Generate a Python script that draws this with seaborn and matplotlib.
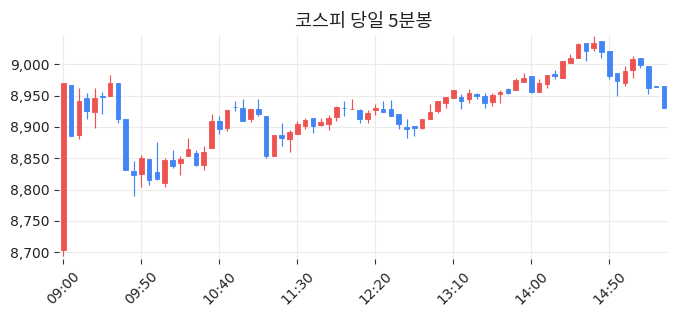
import matplotlib
matplotlib.use("Agg")
import matplotlib.pyplot as plt
import matplotlib.ticker as mticker
import seaborn as sns
import numpy as np
import pandas as pd

# ---- data ----
times = pd.date_range("2024-01-01 09:00", periods=78, freq="5min").strftime("%H:%M").tolist()

opens = [8703, 8967, 8887, 8946, 8924, 8949.5, 8950, 8970, 8912, 8829,
         8825, 8849, 8828, 8811, 8847, 8843, 8854, 8858, 8840, 8867,
         8910, 8899, 8932.5, 8930, 8913, 8929, 8918, 8854, 8887, 8881,
         8888, 8902, 8914, 8903, 8905, 8916, 8930.8, 8928, 8927, 8913,
         8927, 8929, 8928, 8921, 8900, 8901.5, 8899, 8912, 8926, 8939,
         8947, 8948, 8945, 8953, 8949, 8940, 8953, 8960.5, 8959, 8972,
         8981, 8956, 8969, 8985, 8979, 9003, 9011, 9035, 9026.5, 9037,
         9021, 8986, 8971, 8991, 9010, 8997, 8965.3, 8965.5]
highs = [8970, 8967, 8963, 8954, 8963, 8956, 8983, 8970, 8912, 8846,
         8856, 8849, 8876, 8850, 8863, 8854, 8882, 8863, 8869, 8921,
         8917, 8927, 8942, 8945, 8929, 8945, 8918, 8887, 8906, 8895,
         8910, 8914, 8914, 8914, 8919, 8934, 8941, 8945, 8928, 8927,
         8936, 8941, 8943, 8921, 8912, 8901.5, 8913, 8936, 8941, 8948,
         8959, 8953, 8960, 8955, 8954, 8955, 8958.5, 8962, 8979, 8987,
         8981, 8976, 8983, 8991, 9005, 9016, 9034, 9035, 9045, 9037,
         9021, 8986, 8998, 9013, 9010, 8997, 8965.3, 8965.5]
lows = [8694, 8886, 8880, 8912, 8899, 8921, 8950, 8907, 8832, 8789,
        8804, 8807, 8815, 8804, 8835, 8823, 8854, 8838, 8831, 8867,
        8888, 8893, 8925, 8910, 8908, 8918, 8851, 8854, 8869, 8860,
        8888, 8897, 8890, 8901, 8895, 8910, 8917, 8928, 8907, 8906,
        8919, 8924, 8918, 8896, 8883, 8885, 8896, 8912, 8923, 8931,
        8946, 8928, 8939, 8945, 8930, 8934, 8939, 8952.5, 8959, 8972,
        8954, 8956, 8963, 8976, 8979, 9002, 9010, 9005, 9022, 9011,
        8977, 8949, 8966, 8978, 8995, 8952, 8964.5, 8931]
closes = [8970, 8886, 8941, 8926, 8946, 8948.5, 8971, 8913, 8832, 8824,
          8850, 8816, 8817, 8847, 8838, 8849, 8865, 8840, 8860, 8910,
          8896, 8927, 8931.5, 8910, 8929, 8920, 8854, 8887, 8883, 8892,
          8905, 8911, 8902, 8908, 8914, 8932, 8929.8, 8929, 8913, 8922,
          8930, 8924, 8918, 8905, 8896, 8898, 8913, 8924, 8941, 8948,
          8959, 8942, 8954, 8950, 8939, 8951, 8956, 8955, 8975, 8978,
          8956, 8970, 8983, 8982, 9005, 9010, 9032, 9022, 9033.5, 9020,
          8982, 8974, 8989, 9008.5, 8999, 8963, 8964.5, 8931]

title = "코스피 당일 5분봉"
up_color = "#ef5350"
down_color = "#4285f4"

# ---- styling ----
sns.set_theme(style="whitegrid", rc={
    "grid.color": "#ebebeb",
    "grid.linewidth": 0.8,
    "xtick.bottom": True,
    "ytick.left": True,
    "xtick.major.size": 3.5,
    "ytick.major.size": 3.5,
    "xtick.major.width": 0.8,
    "ytick.major.width": 0.8,
    "xtick.color": "#333333",
    "ytick.color": "#333333",
    "xtick.labelcolor": "#222222",
    "ytick.labelcolor": "#222222",
    "xtick.labelsize": 10,
    "ytick.labelsize": 10,
})
plt.rcParams["font.family"] = ["DejaVu Sans", "Noto Sans CJK KR"]

df = pd.DataFrame({"time": times, "open": opens, "high": highs,
                   "low": lows, "close": closes})
df["pos"] = np.arange(len(df))
df["up"] = df["close"] >= df["open"]
df["color"] = np.where(df["up"], up_color, down_color)
df["bottom"] = np.minimum(df["open"], df["close"])
df["height"] = (df["close"] - df["open"]).abs()

fig = plt.figure(figsize=(6.76, 3.16), dpi=100)
ax = fig.add_axes([59.4 / 676, 1 - 259 / 316, (667.8 - 59.4) / 676, (259 - 35) / 316])

ax.vlines(df["pos"], df["low"], df["high"], colors=df["color"], linewidth=0.85, zorder=2)
ax.bar(df["pos"], df["height"], bottom=df["bottom"], width=0.58,
       color=df["color"], edgecolor=df["color"], linewidth=0.6, zorder=3)

ax.set_xlim(-0.5, len(df) - 0.5)
ax.set_ylim(8689, 9047)
tick_pos = df["pos"][::10].tolist()
ax.set_xticks(tick_pos)
ax.set_xticklabels(df["time"][::10].tolist(), rotation=45)
ax.yaxis.set_major_locator(mticker.MultipleLocator(50))
ax.yaxis.set_major_formatter(mticker.FuncFormatter(lambda v, p: f"{v:,.0f}"))
ax.grid(True, axis="both")
ax.set_axisbelow(True)
sns.despine(ax=ax, left=True, bottom=True)
ax.set_xlabel("")
ax.set_ylabel("")
ax.set_title(title, fontsize=13.3, family=["Noto Sans CJK KR", "DejaVu Sans"], color="#222222")

fig.savefig("out.png", dpi=100)
